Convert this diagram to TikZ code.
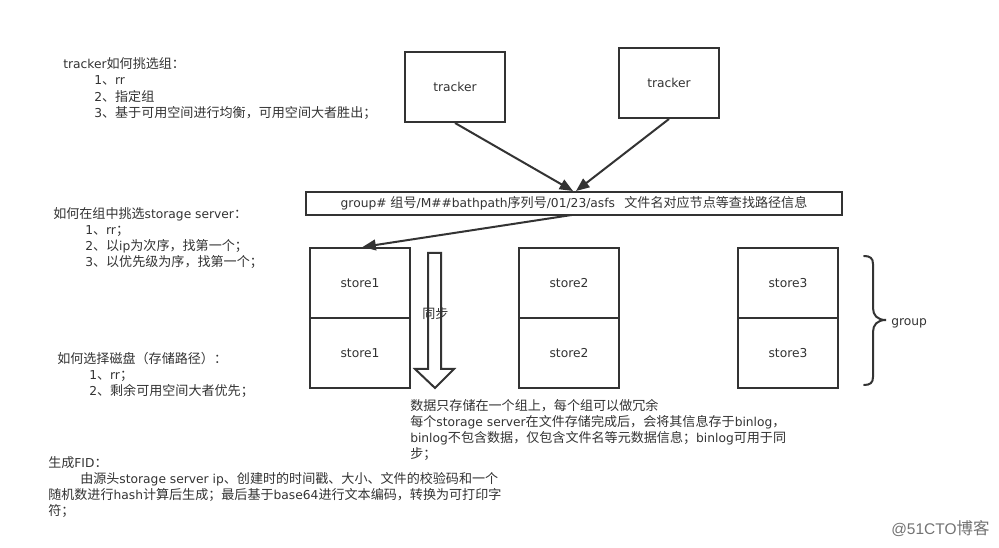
\documentclass[tikz,border=0pt]{standalone}
\usepackage{fontspec}
\setmainfont{DejaVu Sans}
\newfontfamily\cjkf[Scale=1.065]{Noto Sans CJK SC}
\newcommand{\zh}[1]{{\cjkf #1}}
\newcommand{\dn}[1]{\raisebox{-0.75pt}{#1}}
\usetikzlibrary{arrows.meta}
\definecolor{ink}{HTML}{333333}
\tikzset{
  boxnode/.style={draw=ink,line width=1.5pt,minimum width=75pt,minimum height=52.5pt,inner sep=0pt,text=ink,font=\fontsize{9.2}{11}\selectfont},
  widenode/.style={draw=ink,line width=1.5pt,minimum width=402pt,minimum height=17.25pt,inner sep=0pt,text=ink,font=\fontsize{9.2}{11}\selectfont},
  txtline/.style={anchor=base west,inner sep=0pt,text=ink,font=\fontsize{9.2}{11}\selectfont},
  conn/.style={draw=ink,line width=1.5pt,-{Triangle[length=10pt,width=8pt]}},
  outline/.style={draw=ink,line width=1.5pt,line join=miter},
}
\begin{document}
\begin{tikzpicture}[x=0.75pt,y=-0.75pt]
\useasboundingbox (0,0) rectangle (999,548);
\fill[white] (0,0) rectangle (999,548);
% boxes
\node[boxnode] (t1) at (455,87) {tracker};
\node[boxnode] (t2) at (669,83) {tracker};
\node[widenode] (g) at (574,203.5) {\dn{group\# \zh{组号}/M\#\#bathpath\zh{序列号}/01/23/asfs\hspace{7pt}\zh{文件名对应节点等查找路径信息}}};
\node[boxnode] (s1a) at (360,283) {\dn{store1}};
\node[boxnode] (s1b) at (360,353) {\dn{store1}};
\node[boxnode] (s2a) at (569,283) {\dn{store2}};
\node[boxnode] (s2b) at (569,353) {\dn{store2}};
\node[boxnode] (s3a) at (788,283) {\dn{store3}};
\node[boxnode] (s3b) at (788,353) {\dn{store3}};
% connectors
\coordinate (g1) at (573,191);
\coordinate (g2) at (576,191);
\coordinate (g3) at (571.7,215);
\coordinate (s1t) at (362.5,247);
\draw[conn] (t1.south) -- (g1);
\draw[conn] (t2.south) -- (g2);
\draw[conn] (g3) -- (s1t);
% sync arrow
\draw[outline] (428,253) -- (441,253) -- (441,369) -- (454,369) -- (435,388) -- (415,369) -- (428,369) -- cycle;
\node[txtline] (sync) at (422,319) {\zh{同步}};
% brace
\draw[draw=ink,line width=1.5pt,line cap=round] (864,256) .. controls (870,256) and (873,258) .. (873,264) -- (873,308) .. controls (873,315) and (877,320) .. (886,320) .. controls (877,320) and (873,325) .. (873,332) -- (873,377) .. controls (873,383) and (870,385) .. (864,385);
\node[txtline] (glabel) at (891,325.5) {group};
% left notes
\node[txtline] (a0) at (63,69) {tracker\zh{如何挑选组：}};
\node[txtline] (a1) at (94,85) {1\zh{、}rr};
\node[txtline] (a2) at (94,102) {2\zh{、指定组}};
\node[txtline] (a3) at (94,118) {3\zh{、基于可用空间进行均衡，可用空间大者胜出；}};
\node[txtline] (b0) at (53,219) {\zh{如何在组中挑选}storage server\zh{：}};
\node[txtline] (b1) at (85,235) {1\zh{、}rr\zh{；}};
\node[txtline] (b2) at (85,251) {2\zh{、以}ip\zh{为次序，找第一个；}};
\node[txtline] (b3) at (85,267) {3\zh{、以优先级为序，找第一个；}};
\node[txtline] (c0) at (57,364) {\zh{如何选择磁盘（存储路径）：}};
\node[txtline] (c1) at (89,380) {1\zh{、}rr\zh{；}};
\node[txtline] (c2) at (89,396) {2\zh{、剩余可用空间大者优先；}};
\node[txtline] (d0) at (410,411) {\zh{数据只存储在一个组上，每个组可以做冗余}};
\node[txtline] (d1) at (410,427) {\zh{每个}storage server\zh{在文件存储完成后，会将其信息存于}binlog\zh{，}};
\node[txtline] (d2) at (410,443) {binlog\zh{不包含数据，仅包含文件名等元数据信息；}binlog\zh{可用于同}};
\node[txtline] (d3) at (410,459) {\zh{步；}};
\node[txtline] (e0) at (48,467.5) {\zh{生成}FID\zh{：}};
\node[txtline] (e1) at (80,483.5) {\zh{由源头}storage server ip\zh{、创建时的时间戳、大小、文件的校验码和一个}};
\node[txtline] (e2) at (48,499.5) {\zh{随机数进行}hash\zh{计算后生成；最后基于}base64\zh{进行文本编码，转换为可打印字}};
\node[txtline] (e3) at (48,515.5) {\zh{符；}};
% watermark
\node[anchor=base west,inner sep=0pt,text=black!55,font=\fontsize{11.6}{13}\selectfont] (wm) at (891,534) {\fontspec{Liberation Sans}@51CTO\zh{博客}};
\end{tikzpicture}
\end{document}
